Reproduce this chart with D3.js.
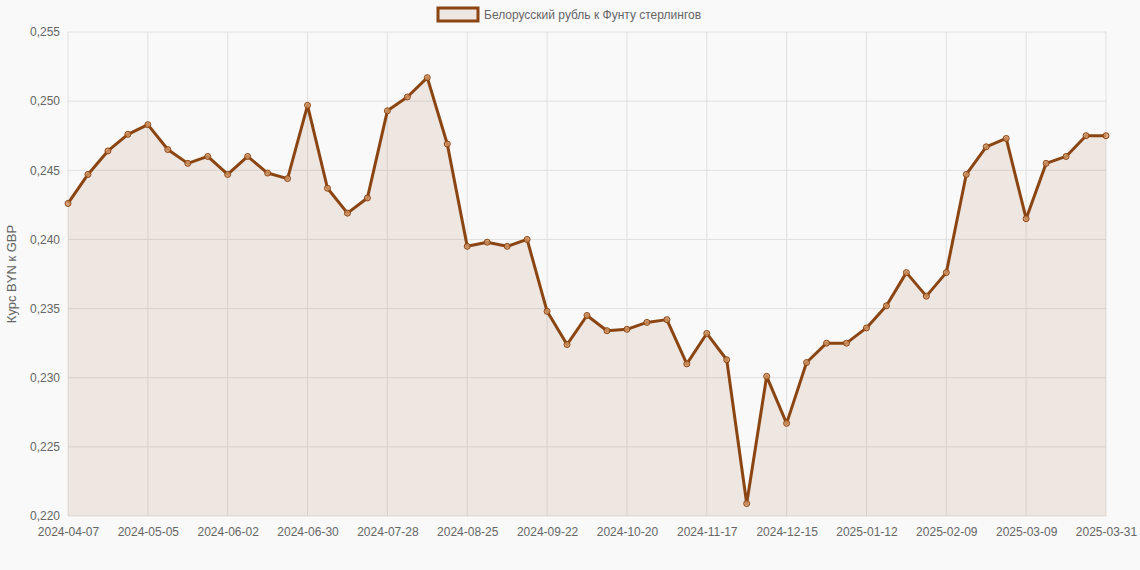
<!DOCTYPE html>
<html><head><meta charset="utf-8">
<script src="https://cdn.jsdelivr.net/npm/d3@7"></script>
<style>body{margin:0;background:#f9f9f9;font-family:"Liberation Sans",Arial,sans-serif}</style>
</head><body><svg id="c" width="1140" height="570"></svg>
<script>
const startDate = "2024-04-07";
const lastDate = "2025-03-31";
const values = [0.2426,0.2447,0.2464,0.2476,0.2483,0.2465,0.2455,0.2460,0.2447,0.2460,0.2448,0.2444,0.2497,0.2437,0.2419,0.2430,0.2493,0.2503,0.2517,0.2469,0.2395,0.2398,0.2395,0.2400,0.2348,0.2324,0.2345,0.2334,0.2335,0.2340,0.2342,0.2310,0.2332,0.2313,0.2209,0.2301,0.2267,0.2311,0.2325,0.2325,0.2336,0.2352,0.2376,0.2359,0.2376,0.2447,0.2467,0.2473,0.2415,0.2455,0.2460,0.2475,0.2475];
const yTicks = [0.220,0.225,0.230,0.235,0.240,0.245,0.250,0.255];
const seriesName = "Белорусский рубль к Фунту стерлингов";
const yTitle = "Курс BYN к GBP";

const fmt = d3.utcFormat("%Y-%m-%d");
const start = new Date(startDate+"T00:00:00Z");
const dates = values.map((v,i)=> i===values.length-1 ? lastDate : fmt(d3.utcDay.offset(start,7*i)));
const data = values.map((v,i)=>({d:dates[i],v}));

const svg = d3.select("#c");
const L=68,R=1106,T=32,B=516;
const x = d3.scalePoint().domain(dates).range([L,R]);
const y = d3.scaleLinear().domain([0.220,0.255]).range([B,T]);
const tickDates = dates.filter((d,i)=> i%4===0 || i===dates.length-1);

// grid
svg.append("g").selectAll("line").data(yTicks).join("line")
 .attr("x1",L).attr("x2",R).attr("y1",d=>y(d)).attr("y2",d=>y(d)).attr("stroke","#e0e0e0");
svg.append("g").selectAll("line").data(tickDates).join("line")
 .attr("x1",d=>x(d)).attr("x2",d=>x(d)).attr("y1",T).attr("y2",B).attr("stroke","#e0e0e0");

svg.append("path").datum(data)
 .attr("d",d3.area().x(d=>x(d.d)).y0(B).y1(d=>y(d.v)))
 .attr("fill","rgba(139,69,19,0.1)");
svg.append("path").datum(data)
 .attr("d",d3.line().x(d=>x(d.d)).y(d=>y(d.v)))
 .attr("fill","none").attr("stroke","#8B4513").attr("stroke-width",3).attr("stroke-linejoin","round");
svg.append("g").selectAll("circle").data(data).join("circle")
 .attr("cx",d=>x(d.d)).attr("cy",d=>y(d.v)).attr("r",3)
 .attr("fill","rgba(210,150,100,0.8)").attr("stroke","#8B4513").attr("stroke-width",1);

const yAx = svg.append("g").attr("transform",`translate(${L},0)`)
 .call(d3.axisLeft(y).tickValues(yTicks).tickFormat(d=>d3.format(".3f")(d).replace(".",",")).tickSize(0).tickPadding(8));
yAx.select(".domain").remove();
yAx.selectAll("text").attr("fill","#666").style("font-size","12px").style("font-family","Liberation Sans, Arial");
const xAx = svg.append("g").attr("transform",`translate(0,${B})`)
 .call(d3.axisBottom(x).tickValues(tickDates).tickSize(0).tickPadding(11));
xAx.select(".domain").remove();
xAx.selectAll("text").attr("fill","#666").style("font-size","12px").style("font-family","Liberation Sans, Arial");

svg.append("text").attr("transform",`translate(16,${(T+B)/2}) rotate(-90)`).attr("text-anchor","middle")
 .attr("fill","#666").style("font-size","13px").text(yTitle);

const lg = svg.append("g");
lg.append("rect").attr("x",438).attr("y",8).attr("width",40).attr("height",13)
 .attr("fill","rgba(139,69,19,0.1)").attr("stroke","#8B4513").attr("stroke-width",3);
lg.append("text").attr("x",484).attr("y",19).attr("fill","#666").style("font-size","12px").text(seriesName);
</script></body></html>
